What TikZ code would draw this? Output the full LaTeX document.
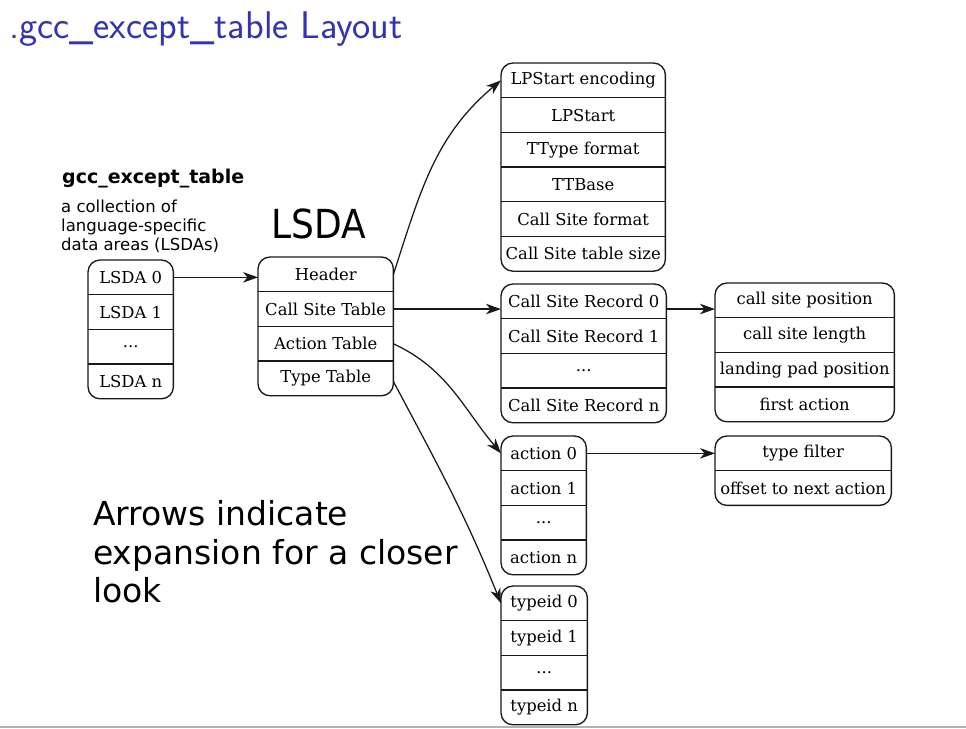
\documentclass[tikz,border=0pt]{standalone}
\usepackage{fontspec}
\usetikzlibrary{positioning}
\usetikzlibrary{arrows.meta}
\newfontfamily\cellfont{DejaVu Serif}
\newfontfamily\notefont{DejaVu Sans}
\newfontfamily\lsdafont[FakeStretch=0.9]{DejaVu Sans}
\definecolor{beamerblue}{RGB}{51,51,179}

\tikzset{
    cell/.style={minimum height=34.3pt, inner sep=0pt, font=\cellfont\fontsize{16.4}{19}\selectfont},
    narrow/.style={cell, minimum width=85pt},
    lsdacell/.style={cell, minimum width=135pt},
    hdrcell/.style={cell, minimum width=164pt},
    reccell/.style={cell, minimum width=165pt},
    fldcell/.style={cell, minimum width=179pt},
    fltcell/.style={cell, minimum width=176pt},
    frame/.style={draw=black!90, line width=1.35pt, rounded corners=12pt},
    sep/.style={draw=black!90, line width=1.35pt},
    link/.style={draw=black!90, line width=1.25pt, -{Stealth[length=15pt, width=10.5pt, inset=4.5pt]}},
}

\begin{document}
\begin{tikzpicture}[x=1pt, y=-1pt]
    \useasboundingbox (0,0) rectangle (966,728);
    \fill[gray!60] (0,726) rectangle (966,728);

    % headings and notes
    \node[anchor=base west, inner sep=0pt, text=beamerblue, font=\sffamily\fontsize{38.6}{46}\selectfont] (title) at (9,38) {.gcc\_except\_table Layout};
    \node[anchor=base west, inner sep=0pt, font=\notefont\bfseries\fontsize{19}{22}\selectfont] (name) at (62,183) {gcc\_except\_table};
    \node[anchor=north west, inner sep=0pt, align=left, font=\notefont\fontsize{16.5}{18.8}\selectfont] (desc) at (61,200) {a collection of\\language-specific\\data areas (LSDAs)};
    \node[anchor=base west, inner sep=0pt, font=\lsdafont\fontsize{40}{48}\selectfont] (lsdatitle) at (271,238) {LSDA};
    \node[anchor=north west, inner sep=0pt, align=left, font=\notefont\fontsize{33}{38.5}\selectfont] (hint) at (93,500.5) {Arrows indicate\\expansion for a closer\\look};

    % list of LSDAs
    \node[narrow, anchor=north west] (l0) at (88,260) {LSDA 0};
    \node[narrow, below=0pt of l0] (l1) {LSDA 1};
    \node[narrow, below=0pt of l1] (l2) {...};
    \node[narrow, below=0pt of l2] (ln) {LSDA n};
    \draw[sep] (l0.south west) -- (l0.south east) (l1.south west) -- (l1.south east) (l2.south west) -- (l2.south east);
    \draw[frame] (l0.north west) rectangle (ln.south east);

    % one LSDA
    \node[lsdacell, anchor=north west] (hdr) at (258,257) {Header};
    \node[lsdacell, below=0pt of hdr] (cst) {Call Site Table};
    \node[lsdacell, below=0pt of cst] (act) {Action Table};
    \node[lsdacell, below=0pt of act] (tyt) {Type Table};
    \draw[sep] (hdr.south west) -- (hdr.south east) (cst.south west) -- (cst.south east) (act.south west) -- (act.south east);
    \draw[frame] (hdr.north west) rectangle (tyt.south east);

    % header fields
    \node[hdrcell, anchor=north west] (enc) at (501,63) {LPStart encoding};
    \node[hdrcell, below=0pt of enc] (lps) {LPStart};
    \node[hdrcell, below=0pt of lps] (ttf) {TType format};
    \node[hdrcell, below=0pt of ttf] (ttb) {TTBase};
    \node[hdrcell, below=0pt of ttb] (csf) {Call Site format};
    \node[hdrcell, below=0pt of csf] (css) {Call Site table size};
    \draw[sep] (enc.south west) -- (enc.south east) (lps.south west) -- (lps.south east) (ttf.south west) -- (ttf.south east)
        (ttb.south west) -- (ttb.south east) (csf.south west) -- (csf.south east);
    \draw[frame] (enc.north west) rectangle (css.south east);

    % call site records
    \node[reccell, anchor=north west] (r0) at (501,284) {Call Site Record 0};
    \node[reccell, below=0pt of r0] (r1) {Call Site Record 1};
    \node[reccell, below=0pt of r1] (r2) {...};
    \node[reccell, below=0pt of r2] (rn) {Call Site Record n};
    \draw[sep] (r0.south west) -- (r0.south east) (r1.south west) -- (r1.south east) (r2.south west) -- (r2.south east);
    \draw[frame] (r0.north west) rectangle (rn.south east);

    % one call site record
    \node[fldcell, anchor=north west] (pos) at (715,283) {call site position};
    \node[fldcell, below=0pt of pos] (len) {call site length};
    \node[fldcell, below=0pt of len] (pad) {landing pad position};
    \node[fldcell, below=0pt of pad] (fst) {first action};
    \draw[sep] (pos.south west) -- (pos.south east) (len.south west) -- (len.south east) (pad.south west) -- (pad.south east);
    \draw[frame] (pos.north west) rectangle (fst.south east);

    % actions
    \node[narrow, anchor=north west] (a0) at (501,436) {action 0};
    \node[narrow, below=0pt of a0] (a1) {action 1};
    \node[narrow, below=0pt of a1] (a2) {...};
    \node[narrow, below=0pt of a2] (an) {action n};
    \draw[sep] (a0.south west) -- (a0.south east) (a1.south west) -- (a1.south east) (a2.south west) -- (a2.south east);
    \draw[frame] (a0.north west) rectangle (an.south east);

    % one action
    \node[fltcell, anchor=north west] (flt) at (715,436) {type filter};
    \node[fltcell, below=0pt of flt] (nxt) {offset to next action};
    \draw[sep] (flt.south west) -- (flt.south east);
    \draw[frame] (flt.north west) rectangle (nxt.south east);

    % type ids
    \node[narrow, anchor=north west, minimum width=86pt] (t0) at (501,586) {typeid 0};
    \node[narrow, minimum width=86pt, below=0pt of t0] (t1) {typeid 1};
    \node[narrow, minimum width=86pt, below=0pt of t1] (t2) {...};
    \node[narrow, minimum width=86pt, below=0pt of t2] (tn) {typeid n};
    \draw[sep] (t0.south west) -- (t0.south east) (t1.south west) -- (t1.south east) (t2.south west) -- (t2.south east);
    \draw[frame] (t0.north west) rectangle (tn.south east);

    % expansions
    \draw[link] (l0.east) -- (l0.east -| hdr.west);
    \draw[link] (hdr.east) to[out=72, in=220] (enc.west);
    \draw[link] (cst.east) -- (cst.east -| r0.west);
    \draw[link] (act.east) to[out=-25, in=130] (a0.west);
    \draw[link] ([yshift=-3pt]tyt.east) to[out=-62, in=112] (t0.west);
    \draw[link] (r0.east |- cst.east) -- (cst.east -| pos.west);
    \draw[link] (a0.east) -- (a0.east -| flt.west);
\end{tikzpicture}
\end{document}
